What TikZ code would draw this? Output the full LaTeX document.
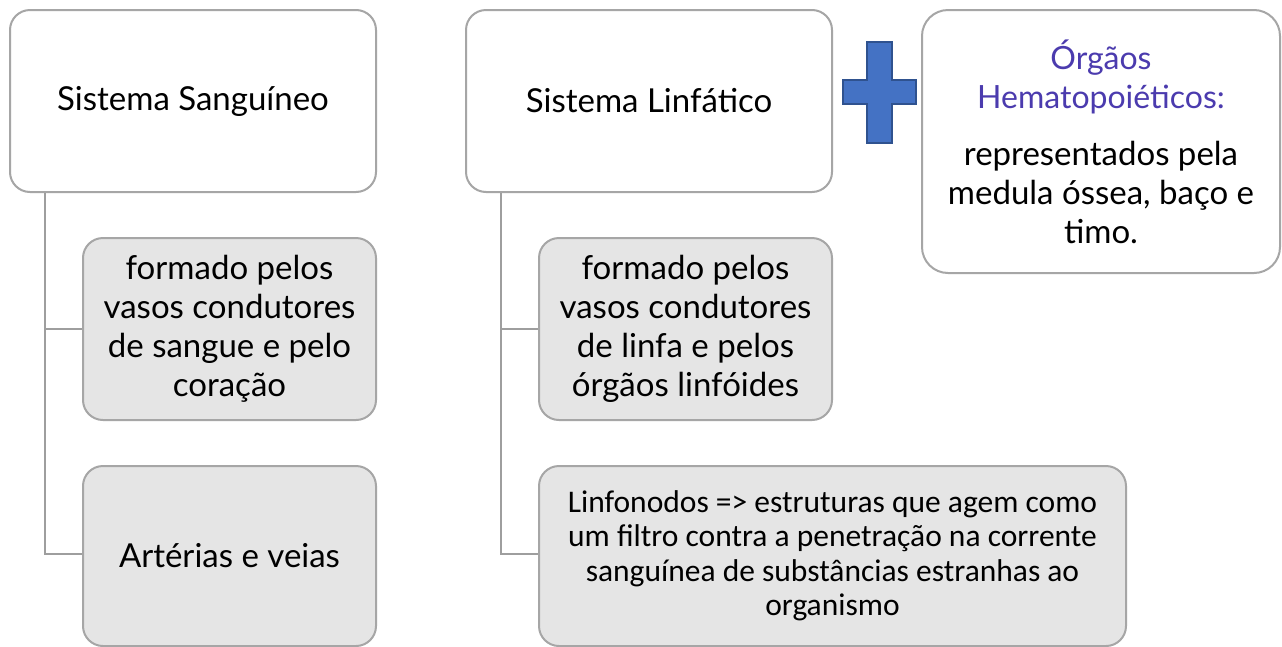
\documentclass[tikz,border=0pt]{standalone}
\usepackage{fontspec}
\setmainfont{Lato}
\newfontfamily\calib{Carlito}
\definecolor{bordergray}{HTML}{A6A6A6}
\definecolor{linkgray}{HTML}{9E9E9E}
\definecolor{boxfill}{HTML}{E5E5E5}
\definecolor{plusblue}{HTML}{4472C4}
\definecolor{plusedge}{HTML}{2F528F}
\definecolor{titlepurple}{HTML}{4B3BAE}
\newcommand{\ptitle}{\color{titlepurple}\fontsize{32}{41}\selectfont}
\begin{document}
\begin{tikzpicture}[x=1pt,y=-1pt,
  box/.style={draw=bordergray, line width=2pt, rounded corners=20pt, align=center, inner sep=0pt, font=\fontsize{33}{39}\selectfont, text=black},
  mainbox/.style={box, fill=white, minimum width=366pt, minimum height=182pt},
  subbox/.style={box, fill=boxfill, minimum width=293pt, minimum height=182pt},
  link/.style={draw=linkgray, line width=2.5pt}]
\useasboundingbox (0,0) rectangle (1282,646);
\fill[white] (0,0) rectangle (1282,646);

% left column
\node[mainbox] (b1) at (193,101) {Sistema Sanguíneo};
\node[subbox] (b2) at (229.5,329) {formado pelos\\vasos condutores\\de sangue e pelo\\coração};
\node[subbox, minimum height=180pt] (b3) at (229.5,556) {Artérias e veias};

% middle column
\node[mainbox] (b4) at (649,101) {Sistema Linfático};
\node[subbox] (b5) at (685.5,329) {formado pelos\\vasos condutores\\de linfa e pelos\\órgãos linfóides};
\node[subbox, minimum width=587pt, minimum height=180pt, font=\calib\fontsize{31.5}{34.5}\selectfont] (b6) at (832.5,556)
  {Linfonodos => estruturas que agem como\\um filtro contra a penetração na corrente\\sanguínea de substâncias estranhas ao\\organismo};

% right box
\node[box, fill=white, rounded corners=26pt, minimum width=358pt, minimum height=263pt] (b7) at (1101,141.5)
  {\ptitle Órgãos\\\ptitle Hematopoiéticos:\\[18pt]
   representados pela\\medula óssea, baço e\\timo.};

% plus sign
\draw[plusedge, fill=plusblue, line width=1.5pt]
  (867,42) -- (892,42) -- (892,80) -- (916,80) -- (916,104) -- (892,104) -- (892,143)
  -- (867,143) -- (867,104) -- (843,104) -- (843,80) -- (867,80) -- cycle;

% connectors
\coordinate (j1) at ([xshift=36pt]b1.south west);
\coordinate (j4) at ([xshift=36pt]b4.south west);
\draw[link] (j1) |- (b2.west);
\draw[link] (j1) |- ([yshift=2pt]b3.west);
\draw[link] (j4) |- (b5.west);
\draw[link] (j4) |- ([yshift=2pt]b6.west);
\end{tikzpicture}
\end{document}
